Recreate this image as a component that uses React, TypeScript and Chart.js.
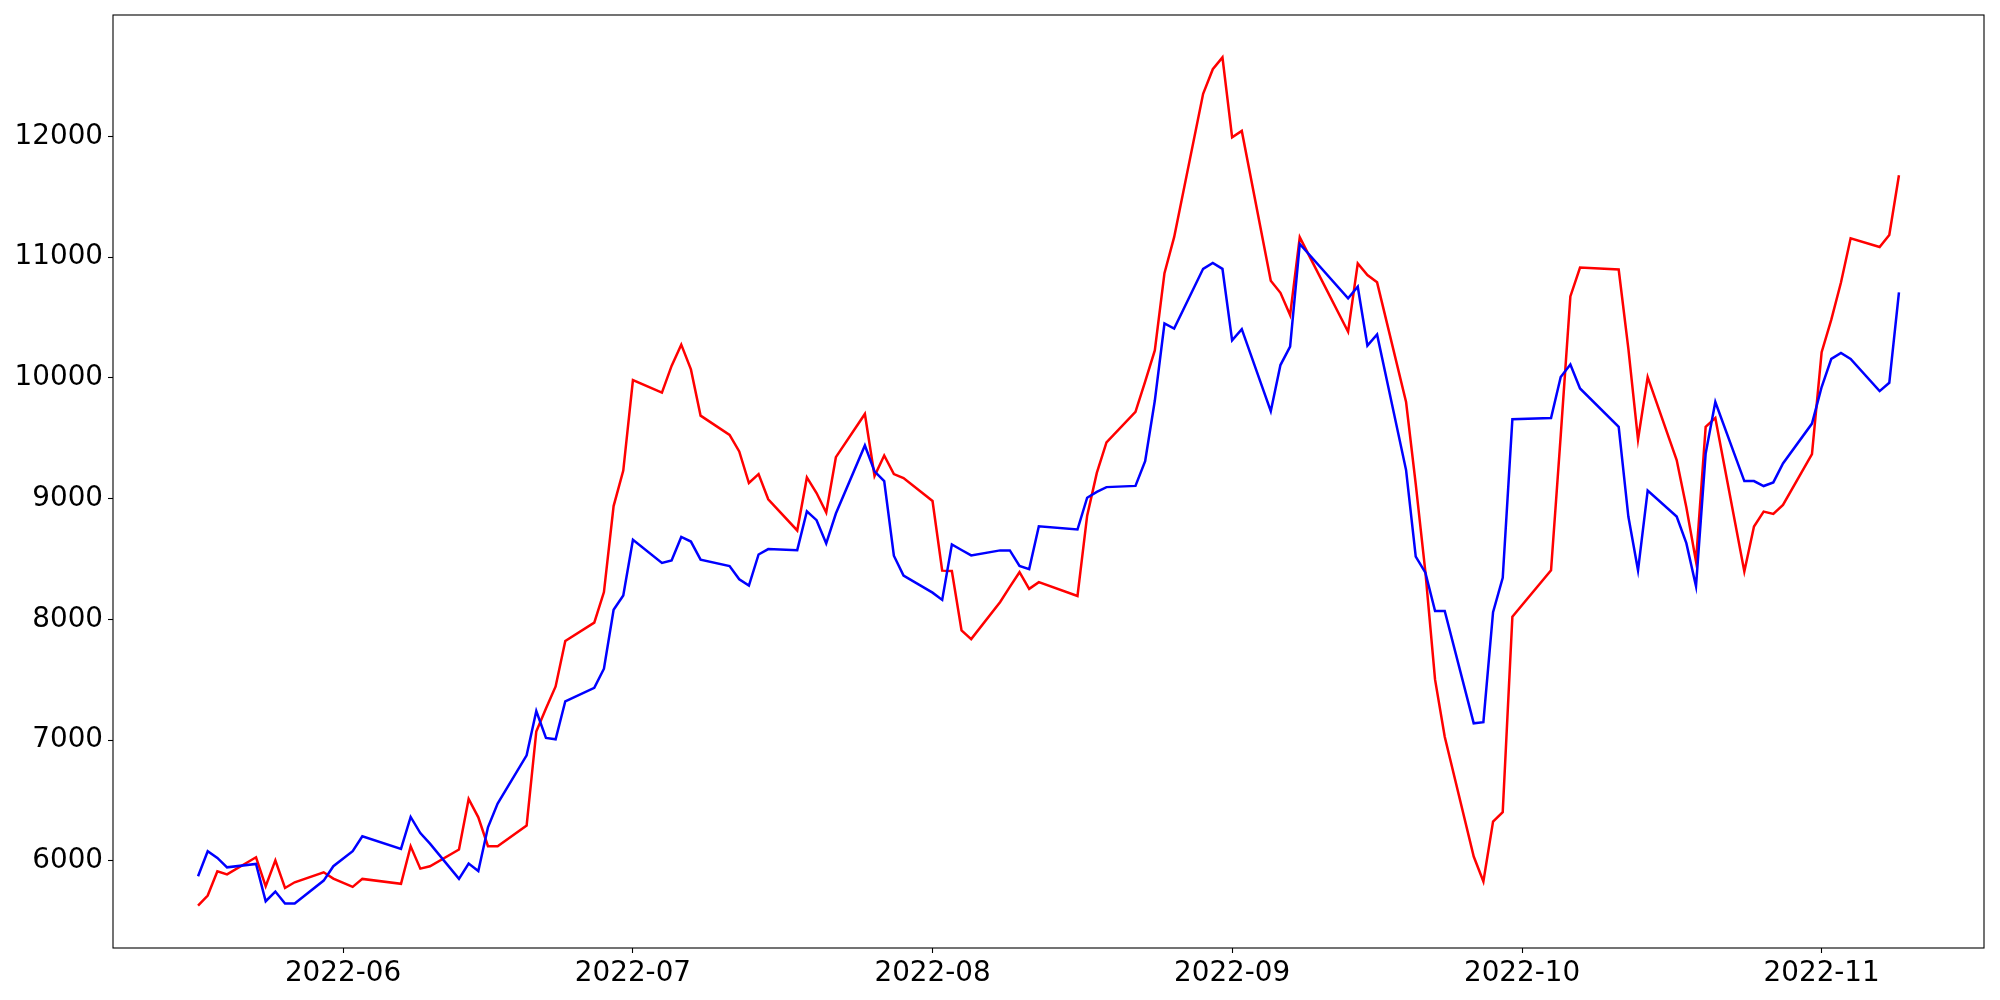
import React, { useEffect, useRef } from "react";
import { Chart, registerables } from "chart.js";

Chart.register(...registerables);

// Trading dates (x values)
const dates: string[] = [
  "2022-05-17", "2022-05-18", "2022-05-19", "2022-05-20", "2022-05-23", "2022-05-24", "2022-05-25", "2022-05-26", "2022-05-27", "2022-05-30", "2022-05-31",
  "2022-06-02", "2022-06-03", "2022-06-07", "2022-06-08", "2022-06-09", "2022-06-10", "2022-06-13", "2022-06-14", "2022-06-15", "2022-06-16", "2022-06-17",
  "2022-06-20", "2022-06-21", "2022-06-22", "2022-06-23", "2022-06-24", "2022-06-27", "2022-06-28", "2022-06-29", "2022-06-30",
  "2022-07-01", "2022-07-04", "2022-07-05", "2022-07-06", "2022-07-07", "2022-07-08", "2022-07-11", "2022-07-12", "2022-07-13", "2022-07-14", "2022-07-15",
  "2022-07-18", "2022-07-19", "2022-07-20", "2022-07-21", "2022-07-22", "2022-07-25", "2022-07-26", "2022-07-27", "2022-07-28", "2022-07-29",
  "2022-08-01", "2022-08-02", "2022-08-03", "2022-08-04", "2022-08-05", "2022-08-08", "2022-08-09", "2022-08-10", "2022-08-11", "2022-08-12",
  "2022-08-16", "2022-08-17", "2022-08-18", "2022-08-19", "2022-08-22", "2022-08-23", "2022-08-24", "2022-08-25", "2022-08-26", "2022-08-29", "2022-08-30", "2022-08-31",
  "2022-09-01", "2022-09-02", "2022-09-05", "2022-09-06", "2022-09-07", "2022-09-08", "2022-09-13", "2022-09-14", "2022-09-15", "2022-09-16",
  "2022-09-19", "2022-09-20", "2022-09-21", "2022-09-22", "2022-09-23", "2022-09-26", "2022-09-27", "2022-09-28", "2022-09-29", "2022-09-30",
  "2022-10-04", "2022-10-05", "2022-10-06", "2022-10-07", "2022-10-11", "2022-10-12", "2022-10-13", "2022-10-14", "2022-10-17", "2022-10-18", "2022-10-19",
  "2022-10-20", "2022-10-21", "2022-10-24", "2022-10-25", "2022-10-26", "2022-10-27", "2022-10-28", "2022-10-31",
  "2022-11-01", "2022-11-02", "2022-11-03", "2022-11-04", "2022-11-07", "2022-11-08", "2022-11-09",
];

// Red series
const redValues: number[] = [
  5629, 5712, 5913, 5888, 6029, 5789, 6004, 5775, 5822, 5905, 5853,
  5784, 5850, 5809, 6120, 5935, 5955, 6093, 6512, 6360, 6121, 6121,
  6292, 7071, 7262, 7444, 7820, 7973, 8226, 8938, 9232,
  9981, 9878, 10099, 10275, 10070, 9687, 9528, 9390, 9129, 9203, 8994,
  8736, 9175, 9046, 8884, 9343, 9701, 9187, 9357, 9203, 9170,
  8980, 8403, 8400, 7908, 7836, 8144, 8269, 8390, 8252, 8308,
  8193, 8859, 9213, 9466, 9719, 9968, 10227, 10867, 11165, 12352, 12556, 12654,
  11992, 12045, 10805, 10704, 10520, 11164, 10382, 10948, 10851, 10791,
  9800, 9120, 8390, 7500, 7027, 6035, 5828, 6325, 6403, 8022,
  8406, 9520, 10674, 10914, 10897, 10242, 9489, 10006, 9319, 8928, 8480,
  9594, 9668, 8397, 8768, 8892, 8873, 8947, 9368,
  10212, 10482, 10790, 11156, 11084, 11183, 11678,
];

// Blue series
const blueValues: number[] = [
  5872, 6079, 6024, 5946, 5974, 5665, 5745, 5646, 5646, 5836, 5955,
  6079, 6203, 6098, 6363, 6230, 6142, 5850, 5977, 5915, 6277, 6474,
  6874, 7241, 7018, 7006, 7321, 7432, 7591, 8079, 8197,
  8658, 8467, 8488, 8682, 8644, 8494, 8441, 8331, 8279, 8537, 8582,
  8573, 8895, 8821, 8628, 8876, 9440, 9225, 9145, 8527, 8362,
  8221, 8161, 8620, 8574, 8529, 8571, 8571, 8443, 8416, 8771,
  8744, 9007, 9056, 9095, 9105, 9309, 9810, 10450, 10408, 10903, 10952, 10903,
  10311, 10403, 9724, 10106, 10258, 11109, 10658, 10755, 10267, 10359,
  9236, 8519, 8386, 8069, 8069, 7139, 7148, 8059, 8344, 9658,
  9668, 10007, 10110, 9912, 9594, 8851, 8406, 9066, 8851, 8631, 8274,
  9374, 9800, 9145, 9145, 9104, 9134, 9291, 9621,
  9924, 10157, 10207, 10157, 9890, 9959, 10707,
];

// Tick labels
const xTickDates: string[] = ["2022-06-01", "2022-07-01", "2022-08-01", "2022-09-01", "2022-10-01", "2022-11-01"];
const xTickLabels: string[] = ["2022-06", "2022-07", "2022-08", "2022-09", "2022-10", "2022-11"];
const yTickValues: number[] = [6000, 7000, 8000, 9000, 10000, 11000, 12000];

const dayNum = (s: string) => {
  const [y, m, d] = s.split("-").map(Number);
  return Date.UTC(y, m - 1, d) / 86400000;
};

const framePlugin = {
  id: "frame",
  afterDraw(chart: any) {
    const { ctx, chartArea } = chart;
    const { left, top, right, bottom } = chartArea;
    ctx.save();
    ctx.strokeStyle = "#000";
    ctx.lineWidth = 1.1;
    ctx.strokeRect(left, top, right - left, bottom - top);
    ctx.restore();
  },
};

export default function App() {
  const canvasRef = useRef<HTMLCanvasElement | null>(null);

  useEffect(() => {
    const canvas = canvasRef.current;
    if (!canvas) return;
    const xs = dates.map(dayNum);
    const xSpan = xs[xs.length - 1] - xs[0];
    const allY = [...redValues, ...blueValues];
    const yLo = Math.min(...allY);
    const yHi = Math.max(...allY);
    const ySpan = yHi - yLo;
    const tickMap = new Map<number, string>();
    xTickDates.forEach((d, i) => tickMap.set(dayNum(d), xTickLabels[i]));
    const font = { family: "'DejaVu Sans', sans-serif", size: 27.8 };

    const chart = new Chart(canvas, {
      type: "line",
      data: {
        datasets: [
          {
            label: "blue",
            data: xs.map((x, i) => ({ x, y: blueValues[i] })),
            borderColor: "#0000ff",
            backgroundColor: "#0000ff",
            borderWidth: 2.5,
            pointRadius: 0,
            tension: 0,
          },
          {
            label: "red",
            data: xs.map((x, i) => ({ x, y: redValues[i] })),
            borderColor: "#ff0000",
            backgroundColor: "#ff0000",
            borderWidth: 2.5,
            pointRadius: 0,
            tension: 0,
          },
        ],
      },
      options: {
        responsive: false,
        animation: false,
        devicePixelRatio: 1,
        layout: { padding: { left: 0, top: 15, right: 16, bottom: 0 } },
        plugins: {
          legend: { display: false },
          tooltip: { enabled: false },
          title: { display: false },
        },
        scales: {
          x: {
            type: "linear",
            min: xs[0] - 0.05 * xSpan,
            max: xs[xs.length - 1] + 0.05 * xSpan,
            border: { display: false },
            grid: {
              display: true,
              drawOnChartArea: false,
              drawTicks: true,
              tickLength: 5,
              tickColor: "#000",
              tickWidth: 1.1,
            },
            afterBuildTicks: (scale: any) => {
              scale.ticks = xTickDates.map((d) => ({ value: dayNum(d) }));
            },
            afterFit: (scale: any) => {
              scale.height = 52;
              scale.paddingLeft = 0;
              scale.paddingRight = 0;
            },
            ticks: {
              autoSkip: false,
              maxRotation: 0,
              minRotation: 0,
              padding: 4,
              color: "#000",
              font,
              callback: (v: any) => tickMap.get(Number(v)) ?? "",
            },
          },
          y: {
            type: "linear",
            min: yLo - 0.05 * ySpan,
            max: yHi + 0.05 * ySpan,
            border: { display: false },
            grid: {
              display: true,
              drawOnChartArea: false,
              drawTicks: true,
              tickLength: 5,
              tickColor: "#000",
              tickWidth: 1.1,
            },
            afterBuildTicks: (scale: any) => {
              scale.ticks = yTickValues.map((v) => ({ value: v }));
            },
            afterFit: (scale: any) => {
              scale.width = 113;
              scale.paddingTop = 0;
              scale.paddingBottom = 0;
            },
            ticks: {
              padding: 5,
              color: "#000",
              font,
              callback: (v: any) => String(v),
            },
          },
        },
      },
      plugins: [framePlugin],
    });

    return () => chart.destroy();
  }, []);

  return (
    <div style={{ position: "fixed", left: 0, top: 0, width: 2000, height: 1000, background: "#fff" }}>
      <canvas ref={canvasRef} width={2000} height={1000} style={{ display: "block", width: 2000, height: 1000 }} />
    </div>
  );
}
